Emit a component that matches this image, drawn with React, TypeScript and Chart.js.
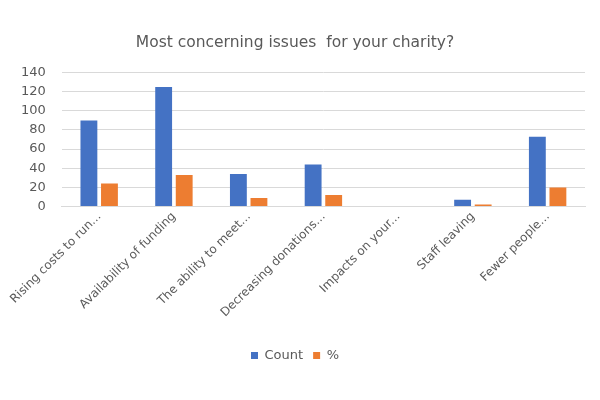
import React, { useEffect, useRef } from "react";
import { Chart, registerables } from "chart.js";

Chart.register(...registerables);

const categories = [
  "Rising costs to run...",
  "Availability of funding",
  "The ability to meet...",
  "Decreasing donations...",
  "Impacts on your...",
  "Staff leaving",
  "Fewer people...",
];
const countValues = [90, 125, 34, 44, 0, 7, 73];
const percentValues = [24, 33, 9, 12, 0, 2, 20];
const yTicks = [0, 20, 40, 60, 80, 100, 120, 140];

const FONT = "'DejaVu Sans', sans-serif";
const GREY = "#595959";

export default function App() {
  const ref = useRef<HTMLCanvasElement>(null);
  useEffect(() => {
    document.body.style.margin = "0";
    const chart = new Chart(ref.current!, {
      type: "bar",
      data: {
        labels: categories,
        datasets: [
          { label: "Count", data: countValues, backgroundColor: "#4472C4", categoryPercentage: 0.55, barPercentage: 0.82 },
          { label: "%", data: percentValues, backgroundColor: "#ED7D31", categoryPercentage: 0.55, barPercentage: 0.82 },
        ],
      },
      options: {
        animation: false,
        responsive: false,
        maintainAspectRatio: false,
        layout: { padding: { top: 34, left: 5, right: 15, bottom: 28 } },
        plugins: {
          title: {
            display: true,
            text: "Most concerning issues  for your charity?",
            color: GREY,
            font: { family: FONT, size: 15.5, weight: "normal" },
            padding: { top: 0, bottom: 20 },
          },
          legend: {
            position: "bottom",
            labels: {
              color: GREY,
              font: { family: FONT, size: 13 },
              boxWidth: 7,
              boxHeight: 7,
              padding: 10,
            },
          },
          tooltip: { enabled: false },
        },
        scales: {
          x: {
            grid: { display: false, drawTicks: false },
            border: { display: true, color: "#d9d9d9" },
            ticks: {
              color: GREY,
              font: { family: FONT, size: 12 },
              maxRotation: 45,
              minRotation: 45,
              autoSkip: false,
              padding: 3,
            },
            afterFit: (axis: any) => {
              axis.height += 16;
            },
          },
          y: {
            min: 0,
            max: 140,
            afterBuildTicks: (axis: any) => {
              axis.ticks = yTicks.map((v) => ({ value: v }));
            },
            grid: { color: "#d9d9d9", drawTicks: false },
            border: { display: false },
            ticks: {
              color: GREY,
              font: { family: FONT, size: 13 },
              padding: 16,
            },
          },
        },
      },
    });
    return () => chart.destroy();
  }, []);
  return (
    <div style={{ width: 600, height: 400 }}>
      <canvas ref={ref} width={600} height={400} />
    </div>
  );
}
